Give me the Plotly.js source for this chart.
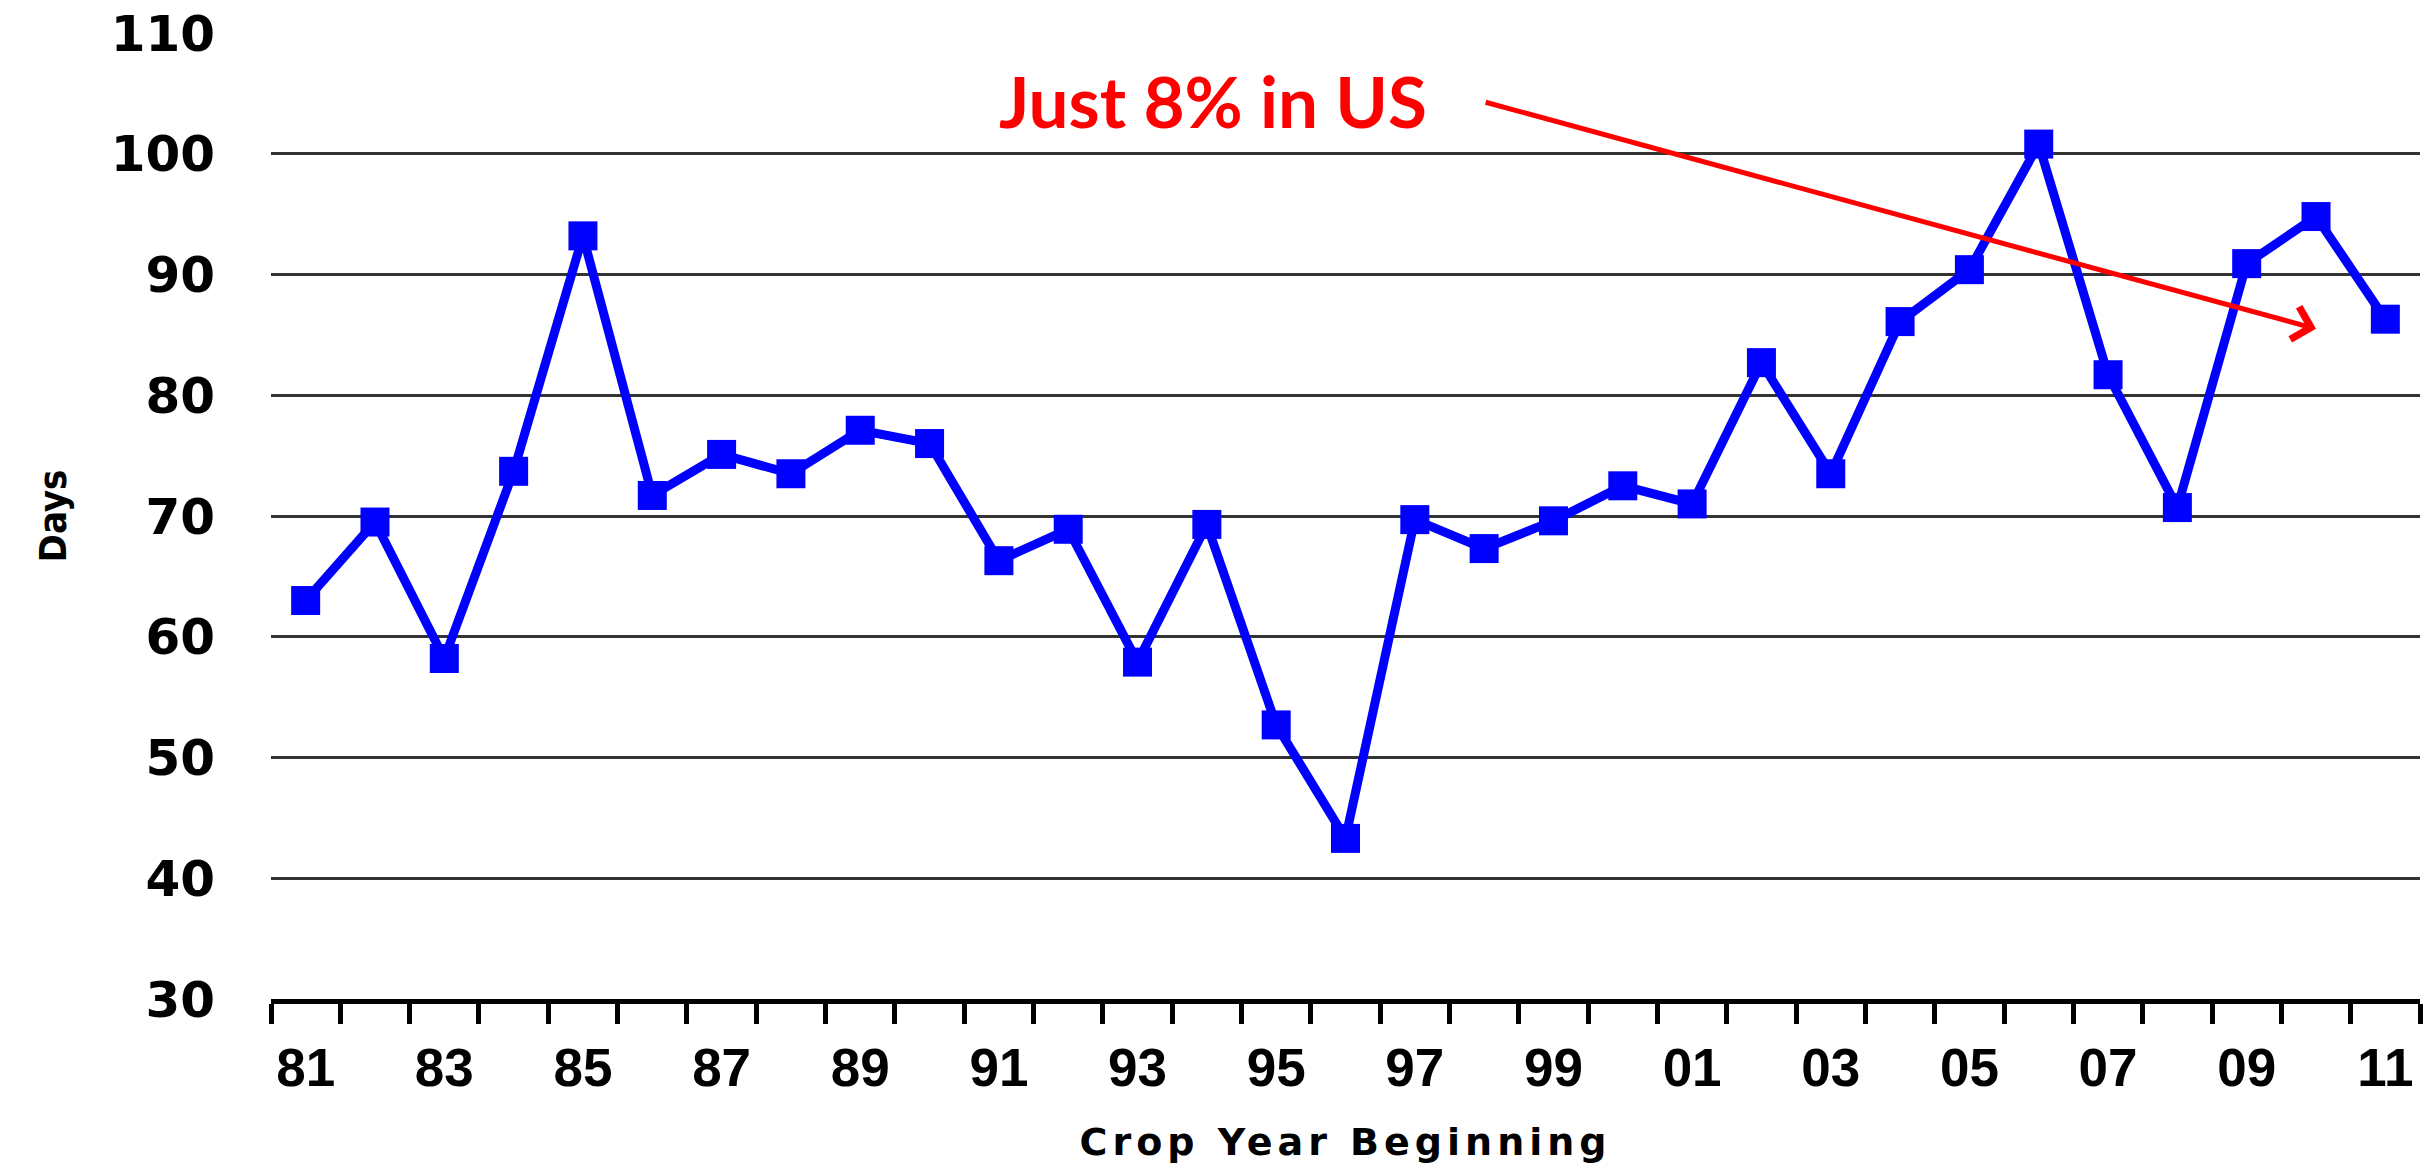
<!DOCTYPE html>
<html>
<head>
<meta charset="utf-8">
<script src="https://cdn.plot.ly/plotly-3.0.1.min.js"></script>
<style>
html,body{margin:0;padding:0;background:#fff;}
#chart{width:2426px;height:1173px;}
#chart .xtitle{letter-spacing:5px;}
</style>
</head>
<body>
<div id="chart"></div>
<script>
// Crop years (two-digit labels)
const cropYears = ['81','82','83','84','85','86','87','88','89','90','91','92','93','94','95','96','97','98','99','00','01','02','03','04','05','06','07','08','09','10','11'];
// Days
const days = [63.0,69.5,58.2,73.7,93.2,71.7,75.1,73.5,77.1,76.0,66.3,68.9,57.9,69.3,52.7,43.3,69.7,67.3,69.6,72.5,71.0,82.7,73.5,86.1,90.4,100.8,81.7,70.7,90.9,94.8,86.3];
// Tick labels: every other year shown
const xTickText = cropYears.map((y, i) => (i % 2 === 0 ? y : ''));
const yTicks = [30,40,50,60,70,80,90,100,110];

const trace = {
  x: cropYears,
  y: days,
  type: 'scatter',
  mode: 'lines+markers',
  line: {color: '#0000FF', width: 9},
  marker: {symbol: 'square', size: 29, color: '#0000FF'},
  hoverinfo: 'skip'
};

const layout = {
  width: 2426,
  height: 1173,
  margin: {l: 271, r: 6, t: 33, b: 174},
  paper_bgcolor: '#ffffff',
  plot_bgcolor: '#ffffff',
  showlegend: false,
  hovermode: false,
  xaxis: {
    type: 'category',
    range: [-0.5, cropYears.length - 0.5],
    autorange: false,
    tickmode: 'array',
    tickvals: cropYears,
    ticktext: xTickText,
    tickson: 'boundaries',
    ticks: 'outside',
    ticklen: 20,
    tickwidth: 5,
    tickcolor: '#000000',
    showline: true,
    linecolor: '#000000',
    linewidth: 5,
    showgrid: false,
    zeroline: false,
    tickangle: 0,
    ticklabelstandoff: 18,
    tickfont: {family: 'Liberation Sans, Arial, sans-serif', size: 53, color: '#000000', weight: 'bold'},
    title: {
      text: 'Crop Year Beginning',
      font: {family: 'DejaVu Sans, sans-serif', size: 38, color: '#000000', weight: 'bold'},
      standoff: 34
    }
  },
  yaxis: {
    range: [30, 110],
    autorange: false,
    tickmode: 'array',
    tickvals: yTicks,
    ticks: '',
    showline: false,
    showgrid: true,
    gridcolor: '#333333',
    gridwidth: 3,
    zeroline: false,
    ticklabelstandoff: 55,
    tickfont: {family: 'DejaVu Sans, sans-serif', size: 50, color: '#000000', weight: 'bold'},
    title: {
      text: 'Days',
      font: {family: 'Liberation Sans Narrow, DejaVu Sans Condensed, Arial, sans-serif', size: 38, color: '#000000', weight: 'bold'},
      standoff: 32
    }
  },
  annotations: [
    {
      xref: 'paper', yref: 'paper',
      x: 0.338, y: 0.93,
      xanchor: 'left', yanchor: 'middle',
      text: 'Just 8% in US',
      showarrow: false,
      font: {family: 'Lato, Open Sans, sans-serif', size: 71, color: '#FF0000', weight: 'bold'}
    },
    {
      xref: 'x', yref: 'y', axref: 'x', ayref: 'y',
      x: 29, y: 85.5,
      ax: 17, ay: 104.3,
      text: '',
      showarrow: true,
      arrowhead: 4,
      arrowsize: 1.3,
      arrowwidth: 5,
      arrowcolor: '#FF0000',
      standoff: 0
    }
  ]
};

Plotly.newPlot('chart', [trace], layout, {staticPlot: true, displayModeBar: false});
</script>
</body>
</html>
